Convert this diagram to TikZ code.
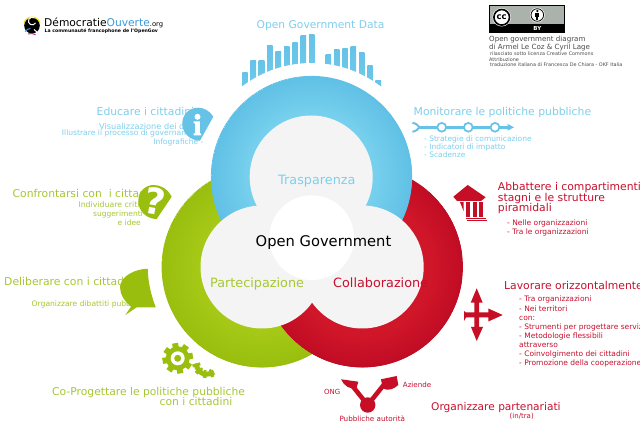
\documentclass[tikz,border=0pt]{standalone}
\usepackage{fontspec}
\setmainfont{DejaVu Sans}
\definecolor{bluehi}{HTML}{78D1EE}
\definecolor{bluelo}{HTML}{60C0E5}
\definecolor{greenhi}{HTML}{A6CA16}
\definecolor{greenlo}{HTML}{9ABE0E}
\definecolor{redhi}{HTML}{D01629}
\definecolor{redlo}{HTML}{C00C24}
\definecolor{bluetxt}{HTML}{7FCFEC}
\definecolor{greentxt}{HTML}{A6C832}
\definecolor{redtxt}{HTML}{C8102E}
\definecolor{bluefill}{HTML}{66C3E7}
\definecolor{greenfill}{HTML}{9ABE0E}
\definecolor{redfill}{HTML}{C60F26}
\definecolor{innergrey}{HTML}{F4F4F4}
\definecolor{ccgrey}{HTML}{AAB2AB}
\definecolor{logoblue}{HTML}{3C9BD6}
\pgfdeclareradialshading{blueshade}{\pgfpoint{0bp}{0bp}}{color(0bp)=(bluehi); color(15bp)=(bluehi); color(25bp)=(bluelo)}
\pgfdeclareradialshading{greenshade}{\pgfpoint{0bp}{0bp}}{color(0bp)=(greenhi); color(15bp)=(greenhi); color(25bp)=(greenlo)}
\pgfdeclareradialshading{redshade}{\pgfpoint{0bp}{0bp}}{color(0bp)=(redhi); color(17bp)=(redhi); color(25bp)=(redlo)}
\newcommand{\fsz}[1]{\fontsize{#1}{#1}\selectfont}
\tikzset{
  x=1pt,y=-1pt,
  lbl/.style={inner sep=0pt,anchor=base west},
  lblr/.style={inner sep=0pt,anchor=base east},
  lblc/.style={inner sep=0pt,anchor=base},
  big/.style={font=\fsz{10.8}},
  small/.style={font=\fsz{7.5}},
  bluet/.style={text=bluetxt},
  greent/.style={text=greentxt},
  redt/.style={text=redtxt},
  bar/.style={top color=bluefill,bottom color=bluehi,draw=none},
}
\begin{document}
\begin{tikzpicture}
\useasboundingbox (0,0) rectangle (640,427);
\clip (0,0) rectangle (640,427);
\fill[white] (0,0) rectangle (640,427);

% logo
\draw[line width=1.2,yellow!85!orange] (32,25.7) ++(-160:8.6) arc[start angle=200,end angle=340,radius=8.6];
\fill[black] (32,25.7) circle (7.8);
\draw[line width=1,logoblue] (25,31.5) arc[start angle=-140,end angle=-100,radius=9];
\draw[line width=1,magenta!80!black] (28,34) arc[start angle=-110,end angle=-60,radius=9];
\draw[white,line width=1] (35.5,23) arc[start angle=30,end angle=300,radius=3.8];
\draw[white,line width=1] (34,29.5) arc[start angle=-80,end angle=20,radius=3.6];
\node[lbl,font=\fsz{10.7}] (logoa) at (44,27) {Démocratie\textcolor{logoblue}{Ouverte}\fsz{6.8}.org};
\node[lbl,font=\fsz{4.65}\bfseries] (logob) at (44.5,32.5) {La communauté francophone de l'OpenGov};

% cc badge
\fill[ccgrey] (489,5) rectangle (564.7,24);
\fill[black] (489,24) rectangle (564.7,32);
\draw[black,line width=.5] (489,5) rectangle (564.7,32);
\fill[white] (501.7,17.3) circle (9.2);
\draw[black,line width=1.6] (501.7,17.3) circle (7.8);
\node[inner sep=0,font=\fsz{8.5}\bfseries] (ccmark) at (501.7,16.8) {cc};
\fill[white] (537.3,15) circle (7.4);
\draw[black,line width=.8] (537.3,15) circle (6.3);
\fill[black] (537.3,11) circle (1.2);
\fill[black] (535.3,12.8) rectangle (539.3,16.8);
\fill[black] (536.2,16.8) rectangle (538.4,20);
\node[inner sep=0,text=white,font=\fsz{5.5}\bfseries] (bymark) at (537.3,28.2) {BY};
\node[lbl,font=\fsz{7.1},text=black!70] (ccl1) at (489,41.5) {Open government diagram};
\node[lbl,font=\fsz{7.1},text=black!70] (ccl2) at (489,50) {di Armel Le Coz \& Cyril Lage};
\node[lbl,font=\fsz{4.9},text=black!70] (ccl3) at (490,55.8) {rilasciato sotto licenza Creative Commons};
\node[lbl,font=\fsz{4.9},text=black!70] (ccl4) at (489,61.3) {Attribuzione};
\node[lbl,font=\fsz{4.9},text=black!70] (ccl5) at (490,67) {traduzione italiana di Francesca De Chiara - OKF Italia};

% data bars
\foreach \xa/\xb/\yt in {242.3/247.7/73, 250.3/256/61, 258.7/264.3/60.3, 267/272.7/45.3, 275.3/281/52, 284/289.3/46.3, 292.3/297.7/42.3, 300.7/306/36, 309/314.3/35, 325.7/331/54.3, 334/339.3/49.7, 342.3/347.7/49, 350.7/356/47, 359/364.3/52.7, 367.3/372.7/65.7, 375.3/381/80.7}
  \shade[bar] (\xa,\yt) rectangle (\xb,110);
\fill[white] (311.5,177) circle (114);

% rings
\shade[shading=greenshade] (262,267) circle (100.3);
\draw[greenlo,line width=.8] (262,267) circle (100);
\shade[shading=redshade] (362.5,267) circle (100.3);
\draw[redlo,line width=.8] (362.5,267) circle (100);
\shade[shading=blueshade] (311.5,176.5) circle (100.5);
\draw[bluelo,line width=.8] (311.5,176.5) circle (100.2);
\fill[innergrey] (311.2,177) circle (61.5);
\fill[innergrey] (262,267) circle (61.5);
\fill[innergrey] (362.2,267) circle (61.5);
\fill[white] (311.7,237.7) circle (42.4);

\node[lbl,font=\fsz{12.8},bluet] (trasp) at (278,184.6) {Trasparenza};
\node[lbl,font=\fsz{14.7},text=black] (og) at (255.5,246.5) {Open Government};
\node[lbl,font=\fsz{12.8},greent] (part) at (210,288) {Partecipazione};
\node[lbl,font=\fsz{12.8},redt] (coll) at (333,288) {Collaborazione};

% top
\node[lbl,font=\fsz{10.7},bluet] (ogd) at (256.5,29) {Open Government Data};

% educare
\node[lbl,big,bluet] (edu) at (96.5,116) {Educare i cittadini};
\node[lbl,font=\fsz{8.2},bluet] (ed1) at (99,129.3) {Visualizzazione dei dati -};
\node[lbl,font=\fsz{7.6},bluet] (ed2) at (61.7,136) {Illustrare il processo di governance -};
\node[lblr,small,bluet] (ed3) at (203.5,145) {Infografiche -};
\fill[bluefill] (213.3,116.7) -- (200,140.7) .. controls (190,140.5) and (182.3,133) .. (182.3,123.5) .. controls (182.3,114.5) and (189,107.7) .. (198,107.7) .. controls (204,107.7) and (210,111) .. cycle;
\fill[white] (197.5,116.8) circle (3);
\fill[white] (193.5,121.5) -- (199.8,121.5) -- (199.8,133.5) -- (201,133.5) -- (201,135.5) -- (193.5,135.5) -- (193.5,133.5) -- (195.2,133.5) -- (195.2,123.5) -- (193.5,123.5) -- cycle;

% monitorare
\node[lbl,big,bluet] (mon) at (413.5,116) {Monitorare le politiche pubbliche};
\coordinate (mstart) at (419,127.3);
\coordinate (mend) at (509,127.3);
\draw[bluefill,line width=2.6] (mstart) -- (mend);
\draw[bluefill,line width=2] (412.5,122.8) .. controls (416,123.5) and (418,125) .. (419.5,127.3) .. controls (418,129.6) and (416,131) .. (412.5,131.8);
\fill[bluefill] (507.7,124) -- (514,127.3) -- (507.7,130.6) -- cycle;
\foreach \cx in {441.7,468.3,495}
  \draw[bluefill,line width=1.7,fill=white] (\cx,127.3) circle (4.4);
\node[lbl,small,bluet] (mo1) at (424,142) {- Strategie di comunicazione};
\node[lbl,small,bluet] (mo2) at (424,150) {- Indicatori di impatto};
\node[lbl,small,bluet] (mo3) at (424,158) {- Scadenze};

% abbattere
\fill[redfill] (453.3,196.7) -- (467.7,185) -- (485.7,197.3) -- (481,201) -- (457,201) -- cycle;
\fill[redfill] (460,202) -- (463.5,202) -- (463.5,211) -- cycle;
\foreach \xa/\xb in {466/469.8,472.5/476.6,479.2/483.4}
  \fill[redfill] (\xa,202) rectangle (\xb,217);
\fill[redfill] (466,217.6) rectangle (486,218.8);
\fill[redfill] (467,219.6) rectangle (486.5,220.6);
\node[lbl,big,redt] (ab1) at (497.7,190.5) {Abbattere i compartimenti};
\node[lbl,big,redt] (ab2) at (497.7,201.3) {stagni e le strutture};
\node[lbl,big,redt] (ab3) at (497.7,212) {piramidali};
\node[lbl,small,redt] (ab4) at (507,226) {- Nelle organizzazioni};
\node[lbl,small,redt] (ab5) at (507,235) {- Tra le organizzazioni};

% lavorare
\fill[redfill] (476.7,288.3) -- (482.7,302.7) -- (479,302.7) -- (479,312.5) -- (488.3,312.5) -- (488.3,308.5) -- (502.7,315) -- (488.3,321.5) -- (488.3,317.5) -- (479,317.5) -- (479,327) -- (483,327) -- (476.7,341) -- (471,327) -- (474.3,327) -- (474.3,317.5) -- (466,317.5) -- (464,321) -- (464,311) -- (466,312.5) -- (474.3,312.5) -- (474.3,302.7) -- (470.7,302.7) -- cycle;
\node[lbl,big,redt] (la0) at (504,289.3) {Lavorare orizzontalmente};
\node[lbl,small,redt] (la1) at (519,302) {- Tra organizzazioni};
\node[lbl,small,redt] (la2) at (519,311.3) {- Nei territori};
\node[lbl,small,redt] (la3) at (519,320.7) {con:};
\node[lbl,small,redt] (la4) at (519,329.7) {- Strumenti per progettare servizi};
\node[lbl,small,redt] (la5) at (519,338.7) {- Metodologie flessibili};
\node[lbl,small,redt] (la6) at (519,347.7) {attraverso};
\node[lbl,small,redt] (la7) at (519,356.7) {- Coinvolgimento dei cittadini};
\node[lbl,small,redt] (la8) at (519,365.7) {- Promozione della cooperazione};

% partenariati
\node[lbl,font=\fsz{10.6},redt] (pa1) at (431,410.4) {Organizzare partenariati};
\node[lblc,font=\fsz{7},redt] (pa2) at (521.7,418.5) {(in/tra)};
\coordinate (yleft) at (351.7,385);
\coordinate (yright) at (385,383.3);
\fill[redfill] (367.7,405) circle (7.7);
\draw[redfill,line width=4.6] (367.7,405) -- (yleft);
\draw[redfill,line width=4.6] (367.7,405) -- (yright);
\fill[redfill] (341,379.3) -- (358.3,381.7) -- (356.5,388.5) .. controls (350,389.5) and (344,386) .. cycle;
\fill[redfill] (381,379.3) -- (396.7,376) -- (398.3,385) .. controls (394,389) and (388,391.5) .. (382.7,388.3) -- cycle;
\node[lbl,font=\fsz{7},redt] (ong) at (324,394.3) {ONG};
\node[lbl,font=\fsz{7.1},redt] (azi) at (402.7,387.3) {Aziende};
\node[lbl,font=\fsz{7.2},redt] (pub) at (339.3,421.7) {Pubbliche autorità};

% confrontarsi
\node[lbl,big,greent] (co1) at (12.5,198) {Confrontarsi con\ \ i cittadini};
\node[lbl,font=\fsz{7.8},greent] (co2) at (78.3,207.8) {Individuare criticità,};
\node[lblr,small,greent] (co3) at (143,216.8) {suggerimenti};
\node[lblr,small,greent] (co4) at (141,225.8) {e idee};
\fill[greenfill] (171.7,196.7) -- (156.7,219) .. controls (146,219) and (138.3,210.5) .. (138.3,201) .. controls (138.3,192) and (145,185) .. (153.5,185) .. controls (160,185) and (167,188) .. cycle;
\node[inner sep=0,rotate=-10,text=white,font=\fsz{36}\bfseries] (qm) at (155.6,201) {?};

% deliberare
\node[lbl,big,greent] (de1) at (4,286) {Deliberare con i cittadini};
\node[lbl,font=\fsz{7.6},greent] (de2) at (31.5,307) {Organizzare dibattiti pubblici};
\fill[greenfill] (147.7,268.7) .. controls (148,282) and (151,295) .. (155.7,307.3) -- (136.7,307.3) -- (125.3,315) -- (131,306.7) .. controls (124,301) and (120,294) .. (120,286.7) .. controls (121,276) and (135,269) .. cycle;

% coprogettare
\node[lbl,font=\fsz{10.75},greent] (cp1) at (52,396) {Co-Progettare le politiche pubbliche};
\node[lbl,font=\fsz{10.75},greent] (cp2) at (159.5,405.3) {con i cittadini};
\fill[greenfill] (177.7,358.3) circle (12);
\foreach \a in {0,45,...,315}
  \fill[greenfill,shift={(177.7,358.3)},rotate=\a+10] (-3,-10) rectangle (3,-15.3);
\fill[white] (177.7,358.3) circle (7);
\fill[greenfill] (177.7,358.3) circle (3.5);
\draw[greenfill,line width=5] (196,363.5) .. controls (198,375) and (207,376) .. (214,372);
\draw[greenfill,line width=8,dash pattern=on 3pt off 3.6pt] (196,363.5) .. controls (198,375) and (207,376) .. (214,372);
\end{tikzpicture}
\end{document}
